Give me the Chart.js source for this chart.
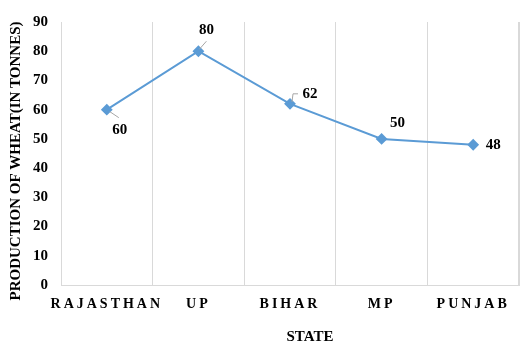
<!DOCTYPE html>
<html>
<head>
<meta charset="utf-8">
<script src="https://cdn.jsdelivr.net/npm/chart.js@4.4.0/dist/chart.umd.min.js"></script>
<style>
  html, body { margin: 0; padding: 0; background: #fff; }
  #wrap { width: 531px; height: 348px; }
</style>
</head>
<body>
<div id="wrap"><canvas id="wheatChart" width="531" height="348"></canvas></div>
<script>
const states = ["RAJASTHAN", "UP", "BIHAR", "MP", "PUNJAB"];
const production = [60, 80, 62, 50, 48];
const yMin = 0, yMax = 90, yStep = 10;

const serif = "'Liberation Serif', 'Times New Roman', serif";

/* where each value label sits relative to its point, plus its little leader line */
const labelSpots = [
    { dx: 13, dy: 20, leader: [[3, 2], [12, 8]] },
    { dx: 8, dy: -21, leader: [[1, -2], [8, -10]] },
    { dx: 20, dy: -10, leader: [[2, -2], [3, -10], [8, -10]] },
    { dx: 16, dy: -16, leader: null },
    { dx: 20, dy: 0, leader: null }
];

/* value labels */
const valueLabels = {
    id: "valueLabels",
    afterDatasetsDraw(chart) {
        const ctx = chart.ctx;
        const meta = chart.getDatasetMeta(0);
        ctx.save();
        meta.data.forEach((pt, i) => {
            const s = labelSpots[i];
            if (s.leader) {
                ctx.strokeStyle = "#a6a6a6";
                ctx.lineWidth = 1;
                ctx.beginPath();
                s.leader.forEach((p, j) => {
                    if (j === 0) ctx.moveTo(pt.x + p[0], pt.y + p[1]);
                    else ctx.lineTo(pt.x + p[0], pt.y + p[1]);
                });
                ctx.stroke();
            }
            ctx.fillStyle = "#000";
            ctx.font = "bold 15px " + serif;
            ctx.textAlign = "center";
            ctx.textBaseline = "middle";
            ctx.fillText(production[i], pt.x + s.dx, pt.y + s.dy);
        });
        ctx.restore();
    }
};

/* axis titles + the right-hand frame line */
const axisTitles = {
    id: "axisTitles",
    afterDraw(chart) {
        const ctx = chart.ctx;
        const sx = chart.scales.x;
        const sy = chart.scales.y;
        const edge = Math.floor(sx.right) - 0.5;
        ctx.save();
        ctx.strokeStyle = "#d9d9d9";
        ctx.lineWidth = 1;
        ctx.beginPath();
        ctx.moveTo(edge, sy.top);
        ctx.lineTo(edge, sy.bottom);
        ctx.stroke();

        ctx.fillStyle = "#000";
        ctx.font = "bold 15px " + serif;
        ctx.textAlign = "center";
        ctx.textBaseline = "middle";
        ctx.fillText("STATE", 310, 337);
        ctx.translate(16, 161);
        ctx.rotate(-Math.PI / 2);
        ctx.fillText("PRODUCTION OF WHEAT(IN TONNES)", 0, 0);
        ctx.restore();
    }
};

/* spaced-out state names on the x axis */
const spacedTicks = {
    id: "spacedTicks",
    afterLayout(chart) {
        const sx = chart.scales.x;
        if (sx._spaced) return;
        const orig = sx.drawLabels;
        sx.drawLabels = function (area) {
            this.ctx.save();
            this.ctx.letterSpacing = "3px";
            orig.call(this, area);
            this.ctx.restore();
        };
        sx._spaced = true;
    }
};

new Chart(document.getElementById("wheatChart"), {
    type: "line",
    data: {
        labels: states,
        datasets: [{
            data: production,
            borderColor: "#5b9bd5",
            backgroundColor: "#5b9bd5",
            borderWidth: 2,
            pointStyle: "rectRot",
            pointRadius: 4.5,
            pointHoverRadius: 4.5,
            tension: 0
        }]
    },
    options: {
        responsive: false,
        animation: false,
        events: [],
        layout: { padding: { top: 19, right: 12, left: 0, bottom: 0 } },
        plugins: {
            legend: { display: false },
            tooltip: { enabled: false }
        },
        scales: {
            x: {
                offset: true,
                grid: { offset: true, color: "#d9d9d9", drawTicks: false },
                border: { color: "#d9d9d9" },
                ticks: {
                    autoSkip: false,
                    color: "#000",
                    font: { family: serif, size: 14, weight: "bold" },
                    padding: 11,
                    maxRotation: 0
                },
                afterFit: s => { s.height = 63; }
            },
            y: {
                min: yMin,
                max: yMax,
                grid: { display: false, drawTicks: false },
                border: { display: true, color: "#d9d9d9" },
                ticks: {
                    stepSize: yStep,
                    color: "#000",
                    font: { family: serif, size: 15, weight: "bold" },
                    padding: 13
                },
                afterFit: s => { s.width = 61; }
            }
        }
    },
    plugins: [spacedTicks, valueLabels, axisTitles]
});
</script>
</body>
</html>
